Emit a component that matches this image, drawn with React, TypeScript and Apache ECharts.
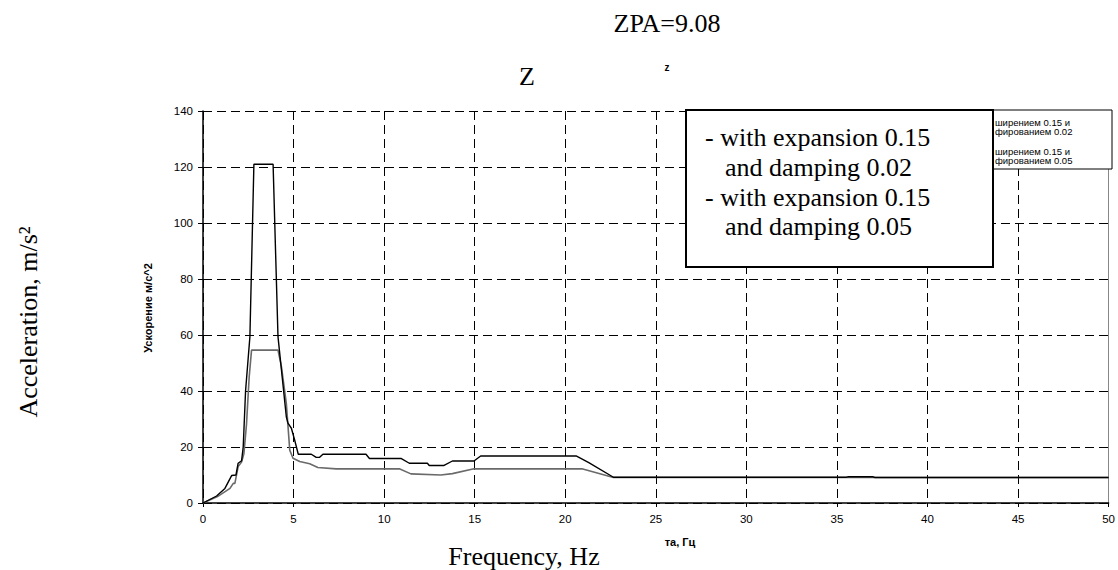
import React, { useEffect, useRef } from "react";
import * as echarts from "echarts";

// Frequency (Hz) / acceleration (m/s^2) — expansion 0.15, damping 0.02
const freq1 = [0, 0.75, 1.21, 1.58, 1.82, 1.94, 2.13, 2.22, 2.35, 2.59, 2.81, 3.87, 4.14, 4.6, 4.69, 4.88, 5.06, 5.26, 5.98, 6.25, 6.44, 6.62, 9.0, 9.19, 10.93, 11.39, 12.39, 12.49, 13.31, 13.77, 14.96, 15.33, 20.6, 21.3, 22.66, 35.5, 35.6, 37.0, 37.1, 50];
const accel1 = [0, 2.5, 5.2, 9.8, 10.0, 14.2, 15.1, 20, 40, 59.4, 121, 121, 59.4, 30.8, 28.5, 26.7, 22.5, 17.4, 17.4, 16.3, 16.3, 17.4, 17.4, 15.9, 15.9, 14.2, 14.2, 13.4, 13.4, 15.0, 15.0, 16.8, 16.8, 14.4, 9.2, 9.2, 9.35, 9.35, 9.1, 9.1];

// expansion 0.15, damping 0.05
const freq2 = [0, 0.8, 1.49, 1.67, 1.76, 1.94, 2.13, 2.26, 2.4, 2.55, 2.68, 4.14, 4.33, 4.6, 4.79, 4.97, 5.34, 5.89, 6.34, 7.35, 10.84, 11.48, 13.13, 13.77, 14.96, 20.92, 22.66, 50];
const accel2 = [0, 2.3, 5.2, 7.0, 7.0, 13.0, 14.6, 17.7, 28, 45, 54.6, 54.6, 48.7, 35.6, 18.9, 16.0, 14.8, 14.0, 12.7, 12.2, 12.2, 10.4, 10.0, 10.5, 12.2, 12.2, 9.1, 9.1];

const xRange = [0, 50, 5];
const yRange = [0, 140, 20];

const titleText = "ZPA=9.08";
const subTitle = "Z";
const smallTitle = "z";
const yNameRu = "Ускорение м/с^2";
const xNameRu = "та, Гц";
const yNameEn = "Acceleration, m/s²";
const xNameEn = "Frequency, Hz";
const legendLines = ["- with expansion 0.15", "and damping 0.02", "- with expansion 0.15", "and damping 0.05"];
const smallLegendLines = ["ширением 0.15 и", "фированием 0.02", "ширением 0.15 и", "фированием 0.05"];

const SERIF = '"Liberation Serif", "Times New Roman", serif';
const SANS = '"Liberation Sans", Arial, sans-serif';

export default function App() {
  const ref = useRef<HTMLDivElement>(null);
  useEffect(() => {
    document.body.style.margin = "0";
    const chart = echarts.init(ref.current!, null, { renderer: "svg" });
    const s1 = freq1.map((f, i) => [f, accel1[i]]);
    const s2 = freq2.map((f, i) => [f, accel2[i]]);
    const legendY = [137, 167, 197, 226];
    const legendX = [705, 725, 705, 725];
    const smallY = [122, 131, 151, 160];
    chart.setOption({
      animation: false,
      backgroundColor: "#fff",
      grid: { left: 203, top: 111, width: 909, height: 392, containLabel: false },
      xAxis: {
        type: "value",
        min: xRange[0],
        max: xRange[1],
        interval: xRange[2],
        axisLine: { show: true, onZero: false, lineStyle: { color: "#000", width: 1.5 } },
        axisTick: { show: true, length: 4, inside: false, lineStyle: { color: "#000" } },
        axisLabel: { color: "#000", fontFamily: SANS, fontSize: 11.5, margin: 10 },
        splitLine: { show: true, lineStyle: { color: "#000", type: [9, 5], width: 1 } },
      },
      yAxis: [
        {
          type: "value",
          min: yRange[0],
          max: yRange[1],
          interval: yRange[2],
          axisLine: { show: true, onZero: false, lineStyle: { color: "#000", width: 1.5 } },
          axisTick: { show: true, length: 5, lineStyle: { color: "#000" } },
          axisLabel: { color: "#000", fontFamily: SANS, fontSize: 11.5, margin: 10 },
          splitLine: { show: true, lineStyle: { color: "#000", type: [9, 5], width: 1 } },
        },
        {
          type: "value",
          position: "right",
          min: yRange[0],
          max: yRange[1],
          interval: yRange[2],
          axisLine: { show: true, onZero: false, lineStyle: { color: "#888", width: 1 } },
          axisTick: { show: false },
          axisLabel: { show: false },
          splitLine: { show: false },
        },
      ],
      series: [
        {
          type: "line",
          name: "damping 0.05",
          data: s2,
          showSymbol: false,
          symbol: "none",
          lineStyle: { color: "#6a6a6a", width: 1.6 },
          z: 3,
        },
        {
          type: "line",
          name: "damping 0.02",
          data: s1,
          showSymbol: false,
          symbol: "none",
          lineStyle: { color: "#000", width: 1.4 },
          z: 4,
        },
      ],
      graphic: [
        { type: "text", x: 667, y: 23, z: 100, style: { text: titleText, font: `26px ${SERIF}`, fill: "#000", textAlign: "center", textVerticalAlign: "middle" } },
        { type: "text", x: 527, y: 76, z: 100, style: { text: subTitle, font: `26px ${SERIF}`, fill: "#000", textAlign: "center", textVerticalAlign: "middle" } },
        { type: "text", x: 667, y: 67, z: 100, style: { text: smallTitle, font: `bold 10px ${SANS}`, fill: "#000", textAlign: "center", textVerticalAlign: "middle" } },
        { type: "text", x: 148, y: 308, rotation: Math.PI / 2, z: 100, style: { text: yNameRu, font: `bold 11px ${SANS}`, fill: "#000", textAlign: "center", textVerticalAlign: "middle" } },
        { type: "text", x: 28, y: 322, rotation: Math.PI / 2, z: 100, style: { text: yNameEn, font: `26px ${SERIF}`, fill: "#000", textAlign: "center", textVerticalAlign: "middle" } },
        { type: "text", x: 680, y: 542, z: 100, style: { text: xNameRu, font: `bold 11px ${SANS}`, fill: "#000", textAlign: "center", textVerticalAlign: "middle" } },
        { type: "text", x: 524, y: 556, z: 100, style: { text: xNameEn, font: `26px ${SERIF}`, fill: "#000", textAlign: "center", textVerticalAlign: "middle" } },
        { type: "rect", z: 90, shape: { x: 993, y: 110, width: 119, height: 59 }, style: { fill: "#fff", stroke: "#000", lineWidth: 1 } },
        ...smallLegendLines.map((t, i) => ({
          type: "text", x: 995, y: smallY[i], z: 95,
          style: { text: t, font: `9.5px ${SANS}`, fill: "#000", textAlign: "left", textVerticalAlign: "middle" },
        })),
        { type: "rect", z: 100, shape: { x: 686, y: 110, width: 307, height: 157 }, style: { fill: "#fff", stroke: "#000", lineWidth: 2 } },
        ...legendLines.map((t, i) => ({
          type: "text", x: legendX[i], y: legendY[i], z: 105,
          style: { text: t, font: `26px ${SERIF}`, fill: "#000", textAlign: "left", textVerticalAlign: "middle" },
        })),
      ],
    });
    return () => chart.dispose();
  }, []);
  return <div ref={ref} style={{ width: 1118, height: 570 }} />;
}
